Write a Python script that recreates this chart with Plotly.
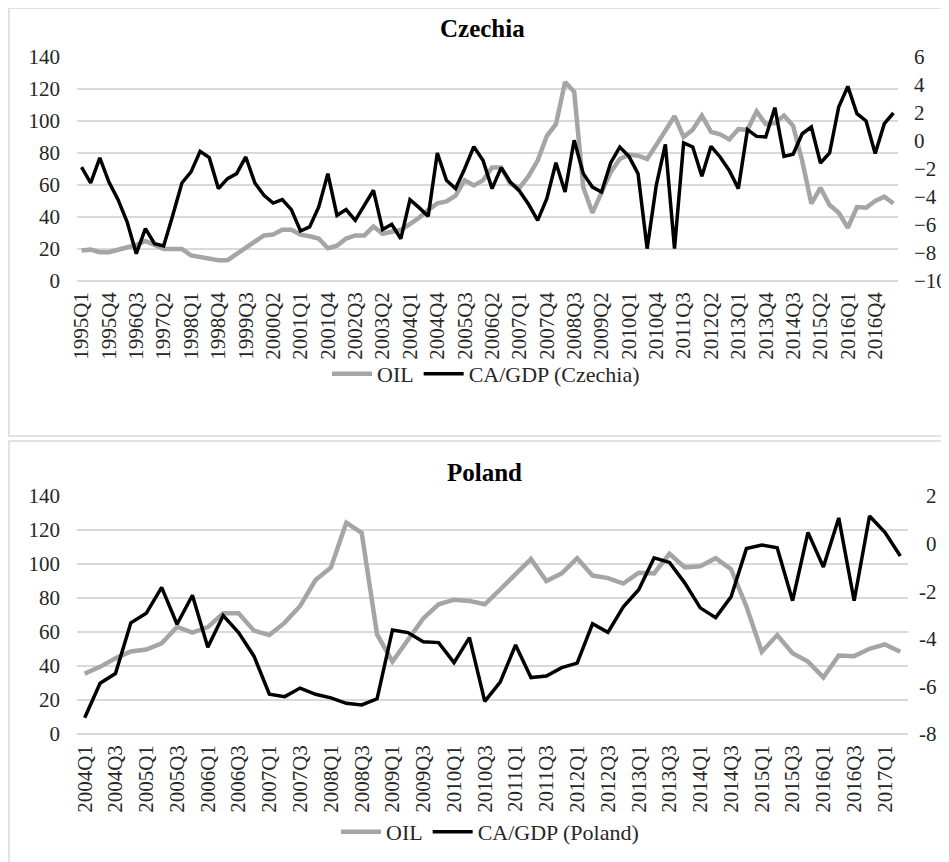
import plotly.graph_objects as go

W, H = 949, 862
OFF = 8  # page body margin offset in the browser

# ---------------- data ----------------
cz_quarters = [f"{y}Q{q}" for y in range(1995, 2018) for q in range(1, 5)][:90]   # 1995Q1..2017Q2
pl_quarters = [f"{y}Q{q}" for y in range(2004, 2018) for q in range(1, 5)][:54]   # 2004Q1..2017Q2

oil = [19, 19.6, 18, 18, 19.5, 21, 22.5, 25, 22.5, 20,
       20, 20, 16, 15, 14.5, 13, 13, 17, 21, 24.5,
       28.5, 29, 32, 32, 29, 28, 26.5, 20.5, 22, 26.5,
       28.5, 28.5, 34, 29.5, 30.5, 32, 35.5, 39.5, 44.5, 48.5,
       49.7, 53.3, 63, 59.7, 62.9, 71, 71, 60.8, 58.2, 65.5,
       75.3, 90.6, 98, 124.3, 118.3, 58.6, 42.6, 55.5, 68, 76.3,
       79, 78.3, 76.3, 85, 94, 103, 90, 94.5, 103.4, 93.2,
       91.7, 88.5, 94.9, 94.5, 106, 98, 98.7, 103.4, 97, 75,
       48.4, 58.2, 47.5, 42.6, 33.3, 46.2, 45.8, 50.1, 52.7, 48.4]

ca_cz = [-1.86, -3.0, -1.21, -2.93, -4.19, -5.79, -8.05, -6.26, -7.33, -7.5,
         -5.31, -3.0, -2.21, -0.74, -1.19, -3.4, -2.69, -2.33, -1.14, -3.0,
         -3.88, -4.43, -4.19, -4.9, -6.43, -6.14, -4.71, -2.33, -5.31, -4.9,
         -5.67, -4.6, -3.52, -6.33, -5.95, -6.98, -4.19, -4.76, -5.38, -0.86,
         -2.81, -3.4, -1.98, -0.4, -1.38, -3.4, -1.9, -2.93, -3.57, -4.52,
         -5.67, -4.12, -1.55, -3.64, 0.05, -2.33, -3.29, -3.64, -1.57, -0.43,
         -1.1, -2.33, -7.69, -3.17, -0.24, -7.69, -0.14, -0.43, -2.52, -0.38,
         -1.14, -2.1, -3.4, 0.81, 0.33, 0.29, 2.38, -1.1, -0.95, 0.52,
         1.0, -1.57, -0.86, 2.43, 3.9, 1.95, 1.43, -0.9, 1.24, 2.0]

ca_pl = [-7.32, -5.87, -5.46, -3.33, -2.93, -1.84, -3.39, -2.17, -4.35, -3.02,
         -3.74, -4.73, -6.33, -6.43, -6.07, -6.33, -6.48, -6.71, -6.78, -6.52,
         -3.63, -3.74, -4.12, -4.16, -5.0, -3.95, -6.63, -5.82, -4.26, -5.63,
         -5.56, -5.21, -5.02, -3.37, -3.73, -2.66, -1.94, -0.6, -0.79, -1.66,
         -2.7, -3.11, -2.24, -0.21, -0.06, -0.18, -2.4, 0.47, -0.98, 1.08,
         -2.4, 1.16, 0.47, -0.52]

oil_pl = oil[36:]  # OIL from 2004Q1

cz_ticks = cz_quarters[::3]
pl_ticks = pl_quarters[::2]

pl_right_vals = [2, 0, -2, -4, -6, -8]
# right-aligned look: positive labels padded with a 1/3-em space (width of "-")
pl_right_text = [("\u2004" + str(v)) if v >= 0 else str(v) for v in pl_right_vals]

# ---------------- styles ----------------
FONT = "Liberation Serif"
GRID = "#d9d9d9"
TICKC = "#262626"
OILC = "#a5a5a5"

def px_x(p):
    return (p - OFF) / W

def px_y(p):
    return 1 - (p - OFF) / H

fig = go.Figure()

fig.add_trace(go.Scatter(x=cz_quarters, y=oil, name="OIL", mode="lines",
                         line=dict(color=OILC, width=4.5), xaxis="x", yaxis="y",
                         legend="legend"))
fig.add_trace(go.Scatter(x=cz_quarters, y=ca_cz, name="CA/GDP (Czechia)", mode="lines",
                         line=dict(color="black", width=3.5), xaxis="x", yaxis="y2",
                         legend="legend"))
fig.add_trace(go.Scatter(x=pl_quarters, y=oil_pl, name="OIL", mode="lines",
                         line=dict(color=OILC, width=4.5), xaxis="x3", yaxis="y3",
                         legend="legend2"))
fig.add_trace(go.Scatter(x=pl_quarters, y=ca_pl, name="CA/GDP (Poland)", mode="lines",
                         line=dict(color="black", width=3.5), xaxis="x3", yaxis="y4",
                         legend="legend2"))

tickfont = dict(family=FONT, size=21, color=TICKC)

xcommon = dict(type="category", showgrid=False, zeroline=False, showline=False,
               ticks="", tickangle=-90, tickfont=tickfont, ticklabelstandoff=6,
               automargin=False)
ycommon = dict(showline=False, ticks="", tickfont=tickfont, automargin=False)

top_dom = [px_y(281), px_y(57)]
bot_dom = [px_y(734), px_y(496)]

legfont = dict(family=FONT, size=22, color=TICKC)

fig.update_layout(
    width=W, height=H, autosize=False,
    margin=dict(l=0, r=0, t=0, b=0, pad=0, autoexpand=False),
    paper_bgcolor="white", plot_bgcolor="white",
    font=dict(family=FONT, size=21, color=TICKC),
    xaxis=dict(domain=[px_x(77), px_x(898)], anchor="y", range=[-0.5, 89.5],
               tickmode="array", tickvals=cz_ticks, ticktext=cz_ticks, **xcommon),
    yaxis=dict(domain=top_dom, anchor="x", range=[0, 140], dtick=20, tick0=0,
               showgrid=True, gridcolor=GRID, gridwidth=1.5,
               zeroline=True, zerolinecolor=GRID, zerolinewidth=1.5,
               ticklabelstandoff=16, **ycommon),
    yaxis2=dict(domain=top_dom, anchor="x", overlaying="y", side="right",
                range=[-10, 6], dtick=2, tick0=0, showgrid=False, zeroline=False,
                ticklabelstandoff=15, **ycommon),
    xaxis3=dict(domain=[px_x(77), px_x(908)], anchor="y3", range=[-0.5, 53.5],
                tickmode="array", tickvals=pl_ticks, ticktext=pl_ticks, **xcommon),
    yaxis3=dict(domain=bot_dom, anchor="x3", range=[0, 140], dtick=20, tick0=0,
                showgrid=True, gridcolor=GRID, gridwidth=1.5,
                zeroline=True, zerolinecolor=GRID, zerolinewidth=1.5,
                ticklabelstandoff=16, **ycommon),
    yaxis4=dict(domain=bot_dom, anchor="x3", overlaying="y3", side="right",
                range=[-8, 2], tickmode="array", tickvals=pl_right_vals,
                ticktext=pl_right_text, showgrid=False, zeroline=False,
                ticklabelstandoff=10, **ycommon),
    legend=dict(orientation="h", x=px_x(486), y=px_y(374), xanchor="center",
                yanchor="middle", font=legfont,
                bgcolor="rgba(0,0,0,0)", itemwidth=40, tracegroupgap=0),
    legend2=dict(orientation="h", x=px_x(490), y=px_y(832), xanchor="center",
                 yanchor="middle", font=legfont,
                 bgcolor="rgba(0,0,0,0)", itemwidth=40, tracegroupgap=0),
    shapes=[
        dict(type="rect", xref="paper", yref="paper",
             x0=px_x(9), x1=1.05, y0=px_y(436), y1=px_y(8),
             line=dict(color=GRID, width=1.5), fillcolor="rgba(0,0,0,0)", layer="below"),
        dict(type="rect", xref="paper", yref="paper",
             x0=px_x(9), x1=1.05, y0=-0.05, y1=px_y(441),
             line=dict(color=GRID, width=1.5), fillcolor="rgba(0,0,0,0)", layer="below"),
    ],
    annotations=[
        dict(text="<b>Czechia</b>", xref="paper", yref="paper", x=px_x(482), y=px_y(28),
             xanchor="center", yanchor="middle", showarrow=False,
             font=dict(family=FONT, size=25, color="black")),
        dict(text="<b>Poland</b>", xref="paper", yref="paper", x=px_x(485), y=px_y(472),
             xanchor="center", yanchor="middle", showarrow=False,
             font=dict(family=FONT, size=25, color="black")),
    ],
)

fig.write_html("out.html")
